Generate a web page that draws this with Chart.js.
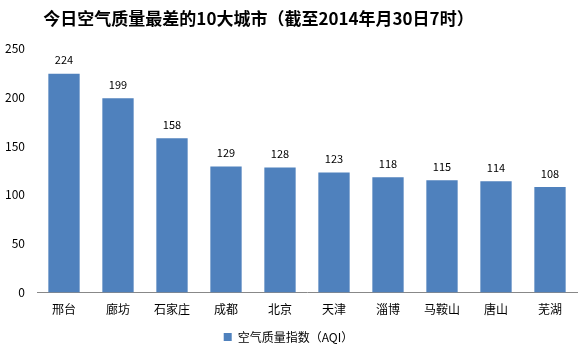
<!DOCTYPE html>
<html>
<head>
<meta charset="utf-8">
<script src="https://cdn.jsdelivr.net/npm/chart.js@4"></script>
<style>
  html, body { margin: 0; padding: 0; background: #fff; }
  #wrap { width: 587px; height: 354px; }
</style>
</head>
<body>
<div id="wrap"><canvas id="aqiChart" width="587" height="354"></canvas></div>
<script>
const cities = ['邢台', '廊坊', '石家庄', '成都', '北京', '天津', '淄博', '马鞍山', '唐山', '芜湖'];
const aqiValues = [224, 199, 158, 129, 128, 123, 118, 115, 114, 108];
const yTicks = [0, 50, 100, 150, 200, 250];

const fontFamily = '"Microsoft YaHei", "Noto Sans CJK SC", "DejaVu Sans", sans-serif';

// labels above each bar
const barValues = {
    id: 'barValues',
    afterDatasetsDraw(chart) {
        const {ctx} = chart;
        const meta = chart.getDatasetMeta(0);
        ctx.save();
        ctx.fillStyle = '#000';
        ctx.font = '11px ' + fontFamily;
        ctx.textAlign = 'center';
        ctx.textBaseline = 'bottom';
        meta.data.forEach(function (bar, i) {
            ctx.fillText(String(aqiValues[i]), bar.x, bar.y - 8);
        });
        ctx.restore();
    }
};

// the original title sits a bit left of centre
const titleShift = {
    id: 'titleShift',
    afterLayout(chart) {
        const t = chart.titleBlock;
        if (t) {
            t.left -= 30;
            t.right -= 30;
        }
    }
};

document.addEventListener('DOMContentLoaded', function () {
    const ctx = document.getElementById('aqiChart').getContext('2d');
    new Chart(ctx, {
        type: 'bar',
        data: {
            labels: cities,
            datasets: [{
                label: '空气质量指数（AQI）',
                data: aqiValues,
                backgroundColor: '#4F81BD',
                categoryPercentage: 1,
                barPercentage: 0.58
            }]
        },
        options: {
            responsive: false,
            animation: false,
            layout: { padding: { left: 0, right: 10, top: 0, bottom: 1 } },
            plugins: {
                title: {
                    display: true,
                    text: '今日空气质量最差的10大城市（截至2014年月30日7时）',
                    color: '#000',
                    font: { family: fontFamily, size: 17, weight: 'bold' },
                    padding: { top: 8, bottom: 20 }
                },
                legend: {
                    position: 'bottom',
                    labels: {
                        color: '#000',
                        boxWidth: 8,
                        boxHeight: 8,
                        font: { family: fontFamily, size: 12 },
                        padding: 4
                    }
                },
                tooltip: { enabled: false }
            },
            scales: {
                x: {
                    grid: { display: false, drawTicks: false },
                    border: { color: '#888', width: 1 },
                    ticks: { color: '#000', font: { family: fontFamily, size: 12 }, padding: 10 }
                },
                y: {
                    min: 0,
                    max: 250,
                    afterBuildTicks(axis) {
                        axis.ticks = yTicks.map(function (v) { return {value: v}; });
                    },
                    afterFit(axis) {
                        axis.width = 37;
                    },
                    grid: { display: false, drawTicks: false },
                    border: { display: false },
                    ticks: { color: '#000', font: { family: fontFamily, size: 12 }, padding: 12 }
                }
            }
        },
        plugins: [barValues, titleShift]
    });
});
</script>
</body>
</html>
